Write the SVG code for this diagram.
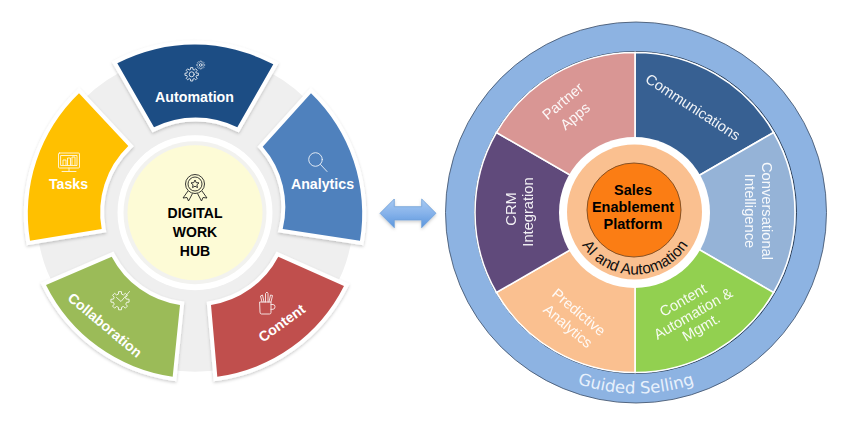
<svg xmlns="http://www.w3.org/2000/svg" width="850" height="432" viewBox="0 0 850 432">
<style>
text{font-family:"Liberation Sans",Arial,sans-serif}
.seg{stroke:#fff;stroke-width:8;stroke-linejoin:miter;paint-order:stroke;filter:url(#sh)}
.lb{fill:#fff;font-weight:700;font-size:14.2px;text-anchor:middle}
.hub{fill:#000;font-weight:700;font-size:14px;text-anchor:middle}
.ic{fill:none;stroke:#fff;stroke-width:.9;stroke-linecap:round;stroke-linejoin:round;opacity:.9}
.sec{stroke:#fff;stroke-width:1.6}
.t{fill:#fff;font-size:14.7px;text-anchor:middle;opacity:.92}
.c{fill:#000;font-weight:700;font-size:14.5px;text-anchor:middle}
</style>
<defs>
<filter id="sh" x="-15%" y="-15%" width="130%" height="130%"><feDropShadow dx="0" dy="1.5" stdDeviation="1.5" flood-color="#000" flood-opacity=".2"/></filter>
<linearGradient id="ag" x1="0" y1="0" x2="0" y2="1"><stop offset="0" stop-color="#a9cbf3"/><stop offset=".5" stop-color="#86b2ea"/><stop offset="1" stop-color="#5a96de"/></linearGradient>
<path id="aiArc" d="M572.500 212A62.500 62.500 0 0 0 697.500 212"/>
<path id="gsArc" d="M455 212.500A181 181 0 0 0 817 212.500"/>
<path id="gear" d="M4.85-1.21L6.72-1.06V1.06L4.85 1.21L4.29 2.58L5.5 4L4 5.5L2.58 4.29L1.21 4.85L1.06 6.72H-1.06L-1.21 4.85L-2.58 4.29L-4 5.5L-5.5 4L-4.29 2.58L-4.85 1.21L-6.72 1.06V-1.06L-4.85-1.21L-4.29-2.58L-5.5-4L-4-5.5L-2.58-4.29L-1.21-4.85L-1.06-6.72H1.06L1.21-4.85L2.58-4.29L4-5.5L5.5-4L4.29-2.58Z"/>
</defs>
<rect width="850" height="432" fill="#fff"/>
<g id="digital-work-hub-wheel">
<circle id="ring" cx="195" cy="212.700" r="118" fill="none" stroke="#efefef" stroke-width="82"/>
<g id="automation">
<path class="seg" fill="#1f4e84" d="M117.300 63.300A168 168 0 0 1 273.300 64.300L237.300 127.300A93 93 0 0 0 154 127.300Z"/>
<g class="ic"><use href="#gear" x="191.700" y="74.300"/><circle cx="191.700" cy="74.300" r="2.500"/><use href="#gear" transform="translate(200.700 65) scale(.6)"/><circle cx="200.700" cy="65" r="1.300"/></g>
<text class="lb" x="194.500" y="101.800">Automation</text>
</g>
<g id="analytics">
<path class="seg" fill="#4f81bd" d="M311 93.300A167 167 0 0 1 360 240.700L282.700 229A92 92 0 0 0 262.700 146.700Z"/>
<g class="ic"><circle cx="315.500" cy="159.500" r="6.800"/><path d="M320.500 164.500L327 171.500"/></g>
<text class="lb" x="322.500" y="188.500">Analytics</text>
</g>
<g id="content">
<path class="seg" fill="#c0504d" d="M344 286A167 167 0 0 1 217.300 376.700L211 305A92 92 0 0 0 278.300 256.700Z"/>
<g class="ic"><path d="M260 302h11v10.500q0 1.500-1.500 1.500h-8q-1.500 0-1.500-1.500Z"/><path d="M271 304.500h2q2 0 2 2.300t-2 2.500h-2"/><path d="M262 302l-1.500-6 2-1 1.500 7M265.500 302v-8.500l1.500-1.500 1 1.500V302M269 302l1.500-7 2 .5-1.500 6.500"/></g>
<text class="lb" transform="translate(281.700 323) rotate(-36)" dy=".35em">Content</text>
</g>
<g id="collaboration">
<path class="seg" fill="#9bbb59" d="M172.700 376.700A167 167 0 0 1 46 285L111.700 256.700A92 92 0 0 0 180 305Z"/>
<g class="ic"><use href="#gear" transform="translate(120 300.700) scale(1.35)" style="stroke-width:.7"/><path d="M116.500 297.500L121 301.500L129.500 291.500"/></g>
<text class="lb" transform="translate(105 325) rotate(40)" dy=".35em">Collaboration</text>
</g>
<g id="tasks">
<path class="seg" fill="#ffc000" d="M30 240.700A167 167 0 0 1 79 93.300L128.300 146A92 92 0 0 0 101.700 229Z"/>
<g class="ic"><rect x="58.500" y="153" width="21" height="15" rx="1"/><path d="M61 155.500h16v10H61ZM63 165v-5h3v5M67.500 165v-7h3v7M72 165v-8h3v8M69 168v3M62 171.500h14"/></g>
<text class="lb" x="68.500" y="189">Tasks</text>
</g>
<g id="hub">
<circle cx="195" cy="212.700" r="77.500" fill="#fff"/>
<circle cx="195" cy="212.700" r="71.500" fill="#f2f2ef"/>
<circle cx="195" cy="212.700" r="67.500" fill="#fdfbd6"/>
<g fill="none" stroke="#222" stroke-width=".9" stroke-linejoin="round"><circle cx="195" cy="184" r="9.500"/><circle cx="195" cy="184" r="7"/><path d="M195 180l1.200 2.600 2.800.3-2.100 1.900.6 2.800-2.500-1.400-2.500 1.400.6-2.800-2.100-1.900 2.800-.3ZM188 191l-5 7 4-.5 1.500 3.500 4-7.500M202 191l5 7-4-.5-1.500 3.500-4-7.500"/></g>
<text class="hub" x="195" y="217.500">DIGITAL</text>
<text class="hub" x="195" y="236.500">WORK</text>
<text class="hub" x="195" y="256">HUB</text>
</g>
</g>
<g id="connectors">
<path filter="url(#sh)" fill="url(#ag)" stroke="#6f9fd8" stroke-width=".8" stroke-linejoin="round" d="M380 213.300L394.300 199V206.700H421.700V199L436 213.300L421.700 227.700V220H394.300V227.700Z"/>
</g>
<g id="sales-enablement-wheel">
<g id="guided-selling">
<circle cx="636" cy="212.500" r="190.500" fill="#8db3e2" stroke="#3b4d66" stroke-width=".8"/>
<text font-size="16.500" fill="#e8f1fc" text-anchor="middle" style="font-family:'DejaVu Sans',sans-serif"><textPath href="#gsArc" startOffset="50%">Guided Selling</textPath></text>
</g>
<circle cx="635.500" cy="212.500" r="161" fill="none" stroke="#2c3e55" stroke-width="1"/>
<g id="communications">
<path class="sec" fill="#376092" d="M635 212.500V52.500A160 160 0 0 1 773.600 132.500Z"/>
<text class="t" transform="translate(693 107) rotate(33)" dy=".35em">Communications</text>
</g>
<g id="conversational-intelligence">
<path class="sec" fill="#95b3d7" d="M635 212.500L773.600 132.500A160 160 0 0 1 773.600 292.500Z"/>
<text class="t" transform="translate(767 211) rotate(90)" dy=".35em">Conversational</text>
<text class="t" transform="translate(750 211) rotate(90)" dy=".35em">Intelligence</text>
</g>
<g id="content-automation">
<path class="sec" fill="#92d050" d="M635 212.500L773.600 292.500A160 160 0 0 1 635 372.500Z"/>
<text class="t" transform="translate(683 300) rotate(-30)" dy=".35em">Content</text>
<text class="t" transform="translate(693 313.500) rotate(-30)" dy=".35em">Automation &amp;</text>
<text class="t" transform="translate(701 327) rotate(-30)" dy=".35em">Mgmt.</text>
</g>
<g id="predictive-analytics">
<path class="sec" fill="#fac090" d="M635 212.500V372.500A160 160 0 0 1 496.400 292.500Z"/>
<text class="t" transform="translate(579 312) rotate(40)" dy=".35em">Predictive</text>
<text class="t" transform="translate(568 326) rotate(40)" dy=".35em">Analytics</text>
</g>
<g id="crm-integration">
<path class="sec" fill="#604a7b" d="M635 212.500L496.400 292.500A160 160 0 0 1 496.400 132.500Z"/>
<text class="t" transform="translate(511 209) rotate(-90)" dy=".35em">CRM</text>
<text class="t" transform="translate(528 212) rotate(-90)" dy=".35em">Integration</text>
</g>
<g id="partner-apps">
<path class="sec" fill="#d99694" d="M635 212.500L496.400 132.500A160 160 0 0 1 635 52.500Z"/>
<text class="t" transform="translate(562.700 101) rotate(-40)" dy=".35em">Partner</text>
<text class="t" transform="translate(575 116) rotate(-40)" dy=".35em">Apps</text>
</g>
<g id="ai-automation">
<circle cx="634.500" cy="212.500" r="75.500" fill="#fff"/>
<circle cx="634.500" cy="212" r="67.500" fill="#fac090"/>
<text font-size="15.500" fill="#111" text-anchor="middle"><textPath href="#aiArc" startOffset="50%">AI and Automation</textPath></text>
</g>
<g id="sales-platform">
<circle cx="634" cy="210" r="47" fill="#fb7d14" stroke="#7a4a20" stroke-width=".9"/>
<text class="c" x="633" y="195">Sales</text>
<text class="c" x="633" y="212">Enablement</text>
<text class="c" x="633" y="229">Platform</text>
</g>
</g>
</svg>
